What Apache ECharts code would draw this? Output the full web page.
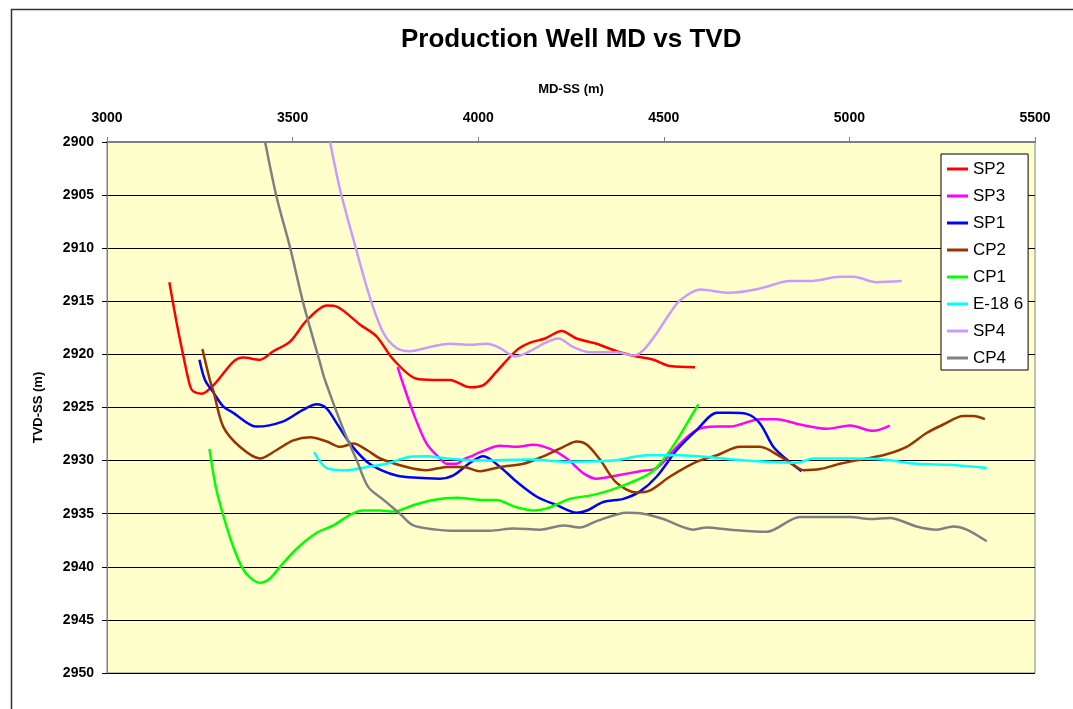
<!DOCTYPE html>
<html><head><meta charset="utf-8">
<script src="https://cdn.jsdelivr.net/npm/echarts@6/dist/echarts.min.js"></script>
<style>html,body{margin:0;padding:0;background:#fff}#c{width:1073px;height:709px}</style>
</head><body><div id="c"></div>
<script>
const xTicks = [3000, 3500, 4000, 4500, 5000, 5500];
const yTicks = [2900, 2905, 2910, 2915, 2920, 2925, 2930, 2935, 2940, 2945, 2950];
const seriesNames = ['SP2', 'SP3', 'SP1', 'CP2', 'CP1', 'E-18 6', 'SP4', 'CP4'];

const sp2Md  = [3168, 3188, 3206, 3224, 3233, 3255, 3287, 3340, 3367, 3412, 3448, 3493, 3538, 3592, 3619, 3682, 3726, 3772, 3834, 3879, 3924, 3978, 4014, 4050, 4104, 4140, 4180, 4225, 4265, 4319, 4373, 4427, 4472, 4517, 4584];
const sp2Tvd = [2913.2, 2917.1, 2920.2, 2923.0, 2923.5, 2923.7, 2922.9, 2920.7, 2920.3, 2920.5, 2919.7, 2918.8, 2916.8, 2915.4, 2915.5, 2917.2, 2918.3, 2920.5, 2922.3, 2922.4, 2922.4, 2923.1, 2922.9, 2921.6, 2919.6, 2918.9, 2918.5, 2917.8, 2918.5, 2919.0, 2919.7, 2920.2, 2920.5, 2921.1, 2921.2];

const sp3Md  = [3783, 3794, 3825, 3861, 3897, 3915, 3942, 3960, 3987, 4005, 4059, 4104, 4149, 4194, 4239, 4284, 4319, 4373, 4436, 4481, 4535, 4589, 4643, 4678, 4759, 4804, 4867, 4939, 5002, 5064, 5109];
const sp3Tvd = [2921.2, 2922.4, 2925.5, 2928.4, 2929.8, 2930.3, 2930.3, 2929.9, 2929.5, 2929.2, 2928.6, 2928.7, 2928.5, 2928.9, 2929.8, 2931.2, 2931.7, 2931.4, 2931.0, 2930.7, 2928.7, 2927.1, 2926.8, 2926.8, 2926.1, 2926.1, 2926.6, 2927.0, 2926.7, 2927.2, 2926.7];

const sp1Md  = [3249, 3264, 3287, 3313, 3340, 3403, 3475, 3529, 3565, 3592, 3619, 3655, 3700, 3745, 3780, 3825, 3897, 3933, 3978, 4014, 4059, 4104, 4158, 4212, 4266, 4293, 4337, 4391, 4436, 4481, 4535, 4589, 4643, 4678, 4723, 4759, 4795, 4831, 4871];
const sp1Tvd = [2920.5, 2922.4, 2923.6, 2924.9, 2925.5, 2926.8, 2926.3, 2925.2, 2924.7, 2925.1, 2926.5, 2928.4, 2930.1, 2931.0, 2931.4, 2931.6, 2931.7, 2931.4, 2930.2, 2929.6, 2930.6, 2932.0, 2933.4, 2934.2, 2934.9, 2934.7, 2933.9, 2933.6, 2932.9, 2931.5, 2929.0, 2927.1, 2925.5, 2925.5, 2925.6, 2926.5, 2928.7, 2929.9, 2931.0];

const cp2Md  = [3257, 3277, 3287, 3313, 3358, 3412, 3457, 3502, 3547, 3592, 3628, 3664, 3700, 3736, 3807, 3861, 3915, 3960, 4005, 4059, 4122, 4175, 4230, 4265, 4293, 4328, 4373, 4427, 4463, 4517, 4589, 4643, 4705, 4759, 4813, 4849, 4876, 4921, 4975, 5046, 5100, 5154, 5208, 5253, 5307, 5334, 5365];
const cp2Tvd = [2919.5, 2922.4, 2923.5, 2926.8, 2928.7, 2929.8, 2929.0, 2928.1, 2927.8, 2928.2, 2928.7, 2928.4, 2929.0, 2929.8, 2930.6, 2930.9, 2930.6, 2930.6, 2931.0, 2930.6, 2930.3, 2929.6, 2928.7, 2928.2, 2928.5, 2929.9, 2932.1, 2933.0, 2932.8, 2931.5, 2930.1, 2929.5, 2928.7, 2928.7, 2929.6, 2930.4, 2930.9, 2930.8, 2930.3, 2929.8, 2929.4, 2928.7, 2927.4, 2926.6, 2925.8, 2925.8, 2926.1];

const cp1Md  = [3276, 3295, 3322, 3340, 3363, 3385, 3412, 3439, 3466, 3511, 3565, 3610, 3655, 3690, 3736, 3771, 3825, 3879, 3942, 4005, 4050, 4095, 4149, 4185, 4247, 4301, 4355, 4409, 4463, 4499, 4535, 4571, 4593];
const cp1Tvd = [2928.9, 2932.8, 2936.2, 2938.1, 2940.0, 2941.0, 2941.5, 2941.1, 2940.0, 2938.3, 2936.8, 2936.1, 2935.1, 2934.7, 2934.7, 2934.8, 2934.2, 2933.7, 2933.5, 2933.7, 2933.7, 2934.3, 2934.7, 2934.5, 2933.6, 2933.3, 2932.8, 2932.1, 2931.2, 2929.9, 2928.1, 2926.0, 2924.7];

const e186Md  = [3558, 3592, 3646, 3700, 3753, 3807, 3861, 3915, 4005, 4140, 4230, 4364, 4454, 4544, 4633, 4687, 4777, 4858, 4903, 5002, 5091, 5181, 5271, 5370];
const e186Tvd = [2929.2, 2930.7, 2930.9, 2930.6, 2930.3, 2929.7, 2929.6, 2929.8, 2930.0, 2929.9, 2930.1, 2930.0, 2929.5, 2929.5, 2929.7, 2929.9, 2930.1, 2930.2, 2929.8, 2929.8, 2929.9, 2930.3, 2930.4, 2930.7];

const sp4Md  = [3601, 3628, 3664, 3708, 3745, 3780, 3816, 3870, 3924, 3978, 4023, 4059, 4099, 4140, 4175, 4216, 4256, 4301, 4373, 4418, 4445, 4481, 4517, 4544, 4598, 4678, 4759, 4840, 4894, 4975, 5011, 5073, 5141];
const sp4Tvd = [2900.0, 2904.5, 2909.2, 2914.6, 2918.0, 2919.4, 2919.7, 2919.3, 2919.0, 2919.1, 2919.0, 2919.4, 2920.2, 2919.7, 2919.0, 2918.5, 2919.3, 2919.8, 2919.8, 2920.1, 2919.6, 2918.0, 2916.1, 2914.9, 2913.9, 2914.2, 2913.8, 2913.1, 2913.1, 2912.7, 2912.7, 2913.2, 2913.1];

const cp4Md  = [3426, 3457, 3493, 3529, 3574, 3587, 3637, 3672, 3704, 3745, 3789, 3825, 3888, 3924, 4032, 4095, 4167, 4230, 4274, 4319, 4400, 4445, 4499, 4580, 4615, 4678, 4777, 4867, 5002, 5056, 5109, 5181, 5235, 5280, 5316, 5370];
const cp4Tvd = [2900.0, 2905.2, 2909.9, 2915.2, 2920.8, 2922.4, 2927.1, 2929.9, 2932.5, 2933.7, 2935.0, 2936.1, 2936.5, 2936.6, 2936.6, 2936.4, 2936.5, 2936.1, 2936.3, 2935.7, 2934.9, 2935.0, 2935.5, 2936.5, 2936.3, 2936.5, 2936.7, 2935.3, 2935.3, 2935.5, 2935.4, 2936.2, 2936.5, 2936.2, 2936.5, 2937.6];

const colors = ['#FF0000', '#FF00FF', '#0000FF', '#993300', '#00FF00', '#00FFFF', '#CC99FF', '#808080'];
const mdList = [sp2Md, sp3Md, sp1Md, cp2Md, cp1Md, e186Md, sp4Md, cp4Md];
const tvdList = [sp2Tvd, sp3Tvd, sp1Tvd, cp2Tvd, cp1Tvd, e186Tvd, sp4Tvd, cp4Tvd];

const FONT = '"Liberation Sans", Arial, sans-serif';
const chart = echarts.init(document.getElementById('c'), null, {renderer: 'canvas'});
chart.setOption({
  animation: false,
  backgroundColor: '#ffffff',
  graphic: [{
    type: 'rect', left: 9, top: 7, z: -10,
    shape: {width: 1100, height: 720},
    style: {fill: 'none', stroke: '#333', lineWidth: 1.5}
  }],
  title: {
    text: 'Production Well MD vs TVD', left: 396, top: 22,
    textStyle: {fontFamily: FONT, fontWeight: 'bold', fontSize: 26, color: '#000'}
  },
  grid: {left: 107, right: 38, top: 142, bottom: 36, show: true, backgroundColor: '#FFFFCC', borderColor: '#808080', borderWidth: 1},
  legend: {
    orient: 'vertical', left: 941, top: 154,
    data: seriesNames,
    icon: 'rect', itemWidth: 21, itemHeight: 3, itemGap: 9,
    backgroundColor: '#ffffff', borderColor: '#000', borderWidth: 1,
    padding: [6, 5, 3, 6],
    textStyle: {fontFamily: FONT, fontSize: 17, color: '#000', lineHeight: 18}
  },
  xAxis: {
    type: 'value', position: 'top', min: xTicks[0], max: xTicks[xTicks.length - 1], interval: 500,
    name: 'MD-SS (m)', nameLocation: 'middle', nameGap: 46,
    nameTextStyle: {fontFamily: FONT, fontWeight: 'bold', fontSize: 13, color: '#000'},
    axisLine: {show: true, lineStyle: {color: '#808080', width: 2}},
    axisTick: {show: true, inside: false, length: 5, lineStyle: {color: '#808080'}},
    axisLabel: {fontFamily: FONT, fontWeight: 'bold', fontSize: 14, color: '#000', margin: 17, formatter: v => String(v)},
    splitLine: {show: false}
  },
  yAxis: {
    type: 'value', inverse: true, min: yTicks[0], max: yTicks[yTicks.length - 1], interval: 5,
    name: 'TVD-SS (m)', nameLocation: 'middle', nameGap: 62, nameRotate: 90,
    nameTextStyle: {fontFamily: FONT, fontWeight: 'bold', fontSize: 13, color: '#000'},
    axisLine: {show: true, lineStyle: {color: '#808080', width: 1}},
    axisTick: {show: true, inside: false, length: 5, lineStyle: {color: '#000'}},
    axisLabel: {fontFamily: FONT, fontWeight: 'bold', fontSize: 14, color: '#000', margin: 13, formatter: v => String(v)},
    splitLine: {show: true, lineStyle: {color: '#000', width: 1}}
  },
  series: seriesNames.map((name, i) => ({
    name: name, type: 'line', smooth: 0.3, symbol: 'none',
    color: colors[i],
    lineStyle: {width: 2.5, color: colors[i]},
    data: mdList[i].map((m, j) => [m, tvdList[i][j]])
  }))
});
</script></body></html>
